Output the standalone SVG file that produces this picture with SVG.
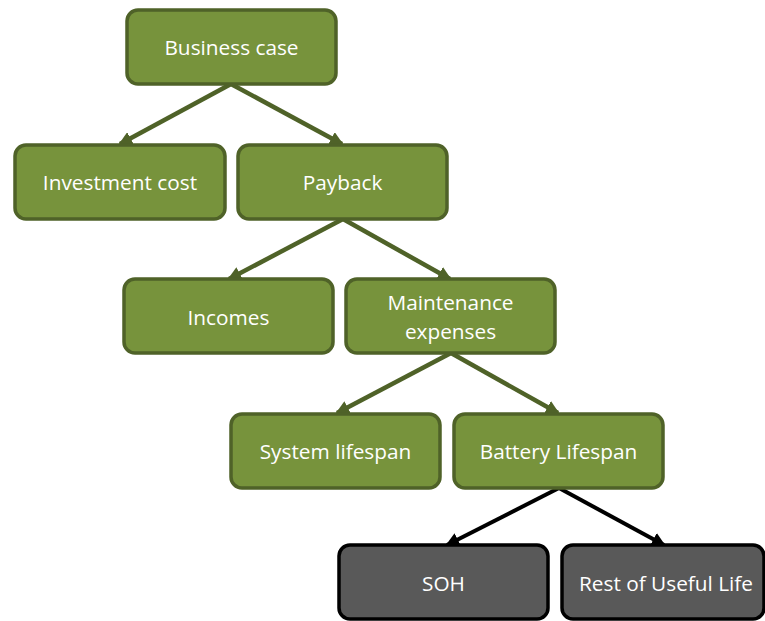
<svg xmlns="http://www.w3.org/2000/svg" width="765" height="621" viewBox="0 0 765 621">
<defs>
<style>
.g rect{fill:#77933c;stroke:#4f6228;stroke-width:3.5}
.k rect{fill:#595959;stroke:#000;stroke-width:3.5}
text{font-family:"Open Sans","Liberation Sans",sans-serif;font-size:20.8px;fill:#fff;text-anchor:middle;dominant-baseline:central}
.cg{stroke:#4f6228;stroke-width:4.5;fill:none}
.ck{stroke:#000;stroke-width:4;fill:none}
</style>
<marker id="ag" markerWidth="14" markerHeight="14" refX="12" refY="7" orient="auto" markerUnits="userSpaceOnUse"><path d="M0,0 L14,7 L0,14 Z" fill="#4f6228"/></marker>
<marker id="ak" markerWidth="14" markerHeight="14" refX="12" refY="7" orient="auto" markerUnits="userSpaceOnUse"><path d="M0,0 L14,7 L0,14 Z" fill="#000"/></marker>
</defs>
<g id="connectors">
<line class="cg" x1="231" y1="84" x2="120" y2="144" marker-end="url(#ag)"/>
<line class="cg" x1="231" y1="84" x2="342" y2="144" marker-end="url(#ag)"/>
<line class="cg" x1="343" y1="219" x2="229" y2="279" marker-end="url(#ag)"/>
<line class="cg" x1="343" y1="219" x2="450" y2="279" marker-end="url(#ag)"/>
<line class="cg" x1="451" y1="353" x2="337" y2="413" marker-end="url(#ag)"/>
<line class="cg" x1="451" y1="353" x2="558" y2="413" marker-end="url(#ag)"/>
<line class="ck" x1="559" y1="488" x2="447" y2="545" marker-end="url(#ak)"/>
<line class="ck" x1="559" y1="488" x2="664" y2="545" marker-end="url(#ak)"/>
</g>
<g id="business-case" class="g"><rect x="127" y="10" width="209" height="74" rx="11"/><text x="231.5" y="47">Business case</text></g>
<g id="investment-cost" class="g"><rect x="15" y="145" width="210" height="74" rx="11"/><text x="120" y="182">Investment cost</text></g>
<g id="payback" class="g"><rect x="238" y="145" width="209" height="74" rx="11"/><text x="342.5" y="182">Payback</text></g>
<g id="incomes" class="g"><rect x="124" y="279" width="209" height="74" rx="11"/><text x="228.5" y="317">Incomes</text></g>
<g id="maintenance-expenses" class="g"><rect x="346" y="279" width="209" height="74" rx="11"/><text x="450.5" y="302">Maintenance</text><text x="450.5" y="331">expenses</text></g>
<g id="system-lifespan" class="g"><rect x="231" y="414" width="209" height="74" rx="11"/><text x="335.5" y="451">System lifespan</text></g>
<g id="battery-lifespan" class="g"><rect x="454" y="414" width="209" height="74" rx="11"/><text x="558.5" y="451">Battery Lifespan</text></g>
<g id="soh" class="k"><rect x="339" y="545" width="209" height="74" rx="11"/><text x="443.5" y="583">SOH</text></g>
<g id="rest-of-useful-life" class="k"><rect x="562" y="545" width="202" height="74" rx="11"/><text x="666" y="583">Rest of Useful Life</text></g>
</svg>
